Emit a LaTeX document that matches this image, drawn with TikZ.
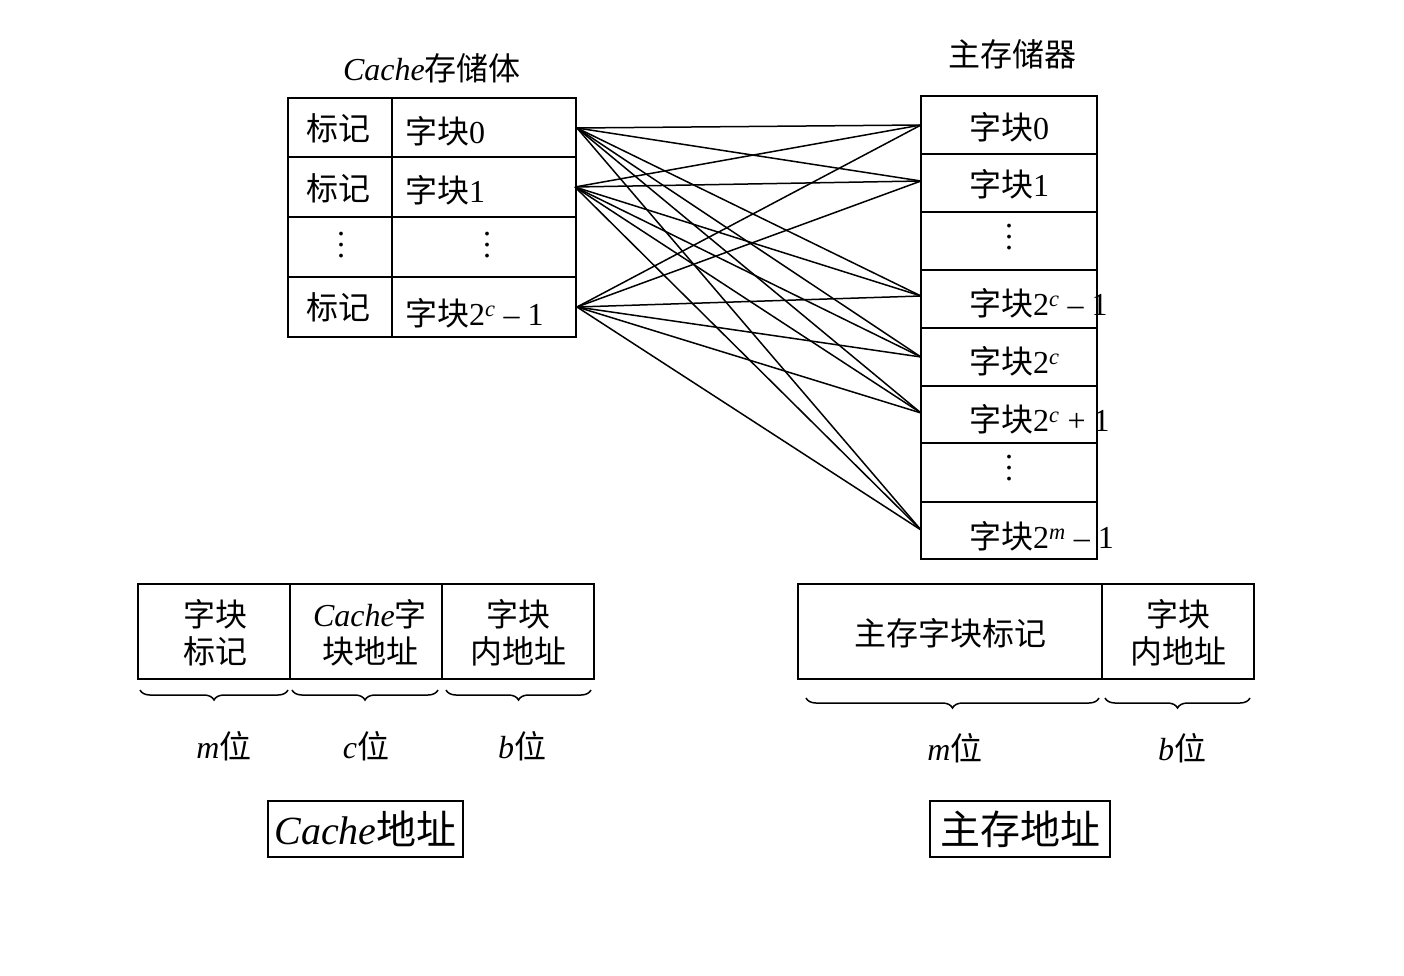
\documentclass[tikz,border=0pt]{standalone}
\usepackage{fontspec}
\setmainfont{Liberation Serif}
\newfontfamily\cjk{Noto Sans CJK SC}
\usetikzlibrary{decorations.pathreplacing}
\newcommand{\zh}[1]{{\cjk #1}}
\newcommand{\pw}[1]{\textsuperscript{\textit{#1}}}
\newcommand{\vd}{\vbox{\baselineskip=11pt\lineskiplimit=-20pt\hbox{.}\hbox{.}\hbox{.}}}
\begin{document}
\begin{tikzpicture}[x=1pt,y=-1pt, font=\fontsize{32}{37}\selectfont,
    cell/.style={draw, line width=2pt},
    lbl/.style={anchor=center, inner sep=0pt},
    link/.style={line width=1.5pt},
    brc/.style={decorate, decoration={brace, mirror, amplitude=10pt}, line width=1.5pt}]
  \useasboundingbox (0,0) rectangle (1404,976);
  % Cache storage
  \node[lbl] (ctitle) at (432,68) {\textit{Cache}\zh{存储体}};
  \foreach \r/\t/\b in {0/98/157,1/157/217,2/217/277,3/277/337}{
    \draw[cell] (288,\t) rectangle (392,\b);
    \draw[cell] (392,\t) rectangle (576,\b);
  }
  \node[lbl] (ct0) at (338,128) {\zh{标记}};
  \node[lbl] (ct1) at (338,188) {\zh{标记}};
  \node[lbl] (ct2) at (341,245) {\vd};
  \node[lbl] (ct3) at (338,307) {\zh{标记}};
  \node[lbl, anchor=west] (cb0) at (405,131) {\zh{字块}0};
  \node[lbl, anchor=west] (cb1) at (405,190) {\zh{字块}1};
  \node[lbl] (cb2) at (487,245) {\vd};
  \node[lbl, anchor=west] (cb3) at (405,313) {\zh{字块}2\pw{c} -- 1};
  \coordinate (c0) at (577,128);
  \coordinate (c1) at (575,187);
  \coordinate (c3) at (577,307);
  % main memory
  \node[lbl] (mtitle) at (1012,54) {\zh{主存储器}};
  \foreach \t/\b in {96/154,154/212,212/270,270/328,328/386,386/443,443/502,502/559}
    \draw[cell] (921,\t) rectangle (1097,\b);
  \node[lbl, anchor=west] (mb0) at (969,127) {\zh{字块}0};
  \node[lbl, anchor=west] (mb1) at (969,184) {\zh{字块}1};
  \node[lbl] (mbd1) at (1009,237) {\vd};
  \node[lbl, anchor=west] (mb2) at (969,303) {\zh{字块}2\pw{c} -- 1};
  \node[lbl, anchor=west] (mb3) at (969,361) {\zh{字块}2\pw{c}};
  \node[lbl, anchor=west] (mb4) at (969,419) {\zh{字块}2\pw{c} + 1};
  \node[lbl] (mbd2) at (1009,468) {\vd};
  \node[lbl, anchor=west] (mb5) at (969,536) {\zh{字块}2\pw{m} -- 1};
  \coordinate (m0) at (921,125);
  \coordinate (m1) at (921,181);
  \coordinate (m2) at (921,296);
  \coordinate (m3) at (921,357);
  \coordinate (m4) at (921,413);
  \coordinate (m5) at (921,530);
  \foreach \c in {c0,c1,c3}
    \foreach \m in {m0,m1,m2,m3,m4,m5}
      \draw[link] (\c) -- (\m);
  % Cache address
  \draw[cell] (138,584) rectangle (290,679);
  \draw[cell] (290,584) rectangle (442,679);
  \draw[cell] (442,584) rectangle (594,679);
  \node[lbl, align=center] (ca1) at (215,633) {\zh{字块}\\\zh{标记}};
  \node[lbl, align=center] (ca2) at (370,633) {\textit{Cache}\zh{字}\\\zh{块地址}};
  \node[lbl, align=center] (ca3) at (518,633) {\zh{字块}\\\zh{内地址}};
  \draw[brc] (140,690) -- (288,690);
  \draw[brc] (292,690) -- (438,690);
  \draw[brc] (446,690) -- (591,690);
  \node[lbl] (cw1) at (224,746) {\textit{m}\zh{位}};
  \node[lbl] (cw2) at (366,746) {\textit{c}\zh{位}};
  \node[lbl] (cw3) at (522,746) {\textit{b}\zh{位}};
  \node[cell, minimum width=195pt, minimum height=56pt, inner sep=0pt, line width=1.5pt,
        font=\fontsize{40}{44}\selectfont] (caddr) at (365.5,829) {\textit{Cache}\zh{地址}};
  % main address
  \draw[cell] (798,584) rectangle (1102,679);
  \draw[cell] (1102,584) rectangle (1254,679);
  \node[lbl] (ma1) at (950,633) {\zh{主存字块标记}};
  \node[lbl, align=center] (ma2) at (1178,633) {\zh{字块}\\\zh{内地址}};
  \draw[brc] (806,698) -- (1099,698);
  \draw[brc] (1105,698) -- (1250,698);
  \node[lbl] (mw1) at (955,748) {\textit{m}\zh{位}};
  \node[lbl] (mw2) at (1182,748) {\textit{b}\zh{位}};
  \node[cell, minimum width=180pt, minimum height=56pt, inner sep=0pt, line width=1.5pt,
        font=\fontsize{40}{44}\selectfont] (maddr) at (1020,829) {\zh{主存地址}};
\end{tikzpicture}
\end{document}
